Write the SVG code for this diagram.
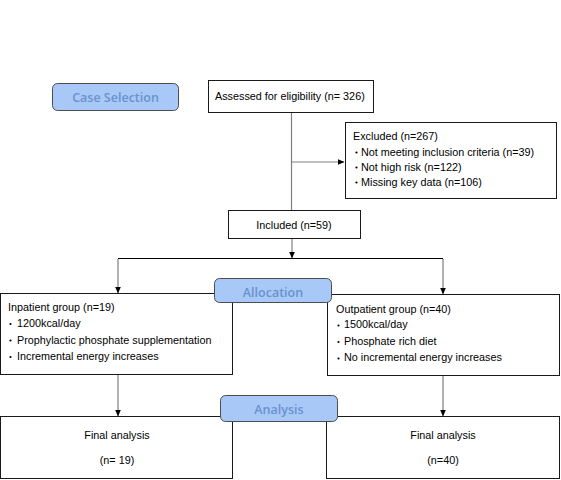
<svg xmlns="http://www.w3.org/2000/svg" width="561" height="480" viewBox="0 0 561 480">
<defs>
<marker id="arr" markerWidth="7" markerHeight="6" refX="6.5" refY="3" orient="auto" markerUnits="userSpaceOnUse">
<path d="M0,0 L7,3 L0,6 Z" fill="#000"/>
</marker>
<style>
.box{fill:#fff;stroke:#1a1a1a;stroke-width:1}
.hdr{fill:#a8c8f8;stroke:#4d4d4d;stroke-width:1}
.ht{font-family:"Open Sans","Noto Sans",sans-serif;font-size:12.5px;font-weight:600;fill:#6a92cd;text-anchor:middle}
.t{font-family:"Liberation Sans",Arial,sans-serif;font-size:10.8px;fill:#000}
.c{text-anchor:middle}
.ln{stroke:#7f7f7f;stroke-width:1.2;fill:none}
.bl{stroke:#000;stroke-width:1;fill:none}
.dot{fill:#000}
</style>
</defs>
<rect width="561" height="480" fill="#fff"/>

<g id="connectors">
<path class="ln" d="M291.5,113 V210"/>
<path class="ln" d="M291.5,162 H344" marker-end="url(#arr)"/>
<path class="ln" d="M292,239 V258" marker-end="url(#arr)"/>
<path class="bl" d="M118,258.5 H443"/>
<path class="ln" d="M118,259 V293" marker-end="url(#arr)"/>
<path class="ln" d="M443,259 V294" marker-end="url(#arr)"/>
<path class="ln" d="M118,375 V416" marker-end="url(#arr)"/>
<path class="ln" d="M443,376 V416" marker-end="url(#arr)"/>
</g>

<g id="case-selection">
<rect class="hdr" x="52.5" y="83.5" width="126" height="27" rx="5"/>
<text class="ht" x="115.5" y="102">Case Selection</text>
</g>

<g id="assessed">
<rect class="box" x="208.5" y="80.5" width="165" height="32"/>
<text class="t" x="215" y="100">Assessed for eligibility (n= 326)</text>
</g>

<g id="excluded">
<rect class="box" x="345.5" y="122.5" width="211" height="76"/>
<text class="t" x="353" y="140">Excluded (n=267)</text>
<circle class="dot" cx="356.5" cy="152.5" r="1.1"/>
<text class="t" x="361" y="156">Not meeting inclusion criteria (n=39)</text>
<circle class="dot" cx="356.5" cy="167.5" r="1.1"/>
<text class="t" x="361" y="171">Not high risk (n=122)</text>
<circle class="dot" cx="356.5" cy="182.5" r="1.1"/>
<text class="t" x="361" y="186">Missing key data (n=106)</text>
</g>

<g id="included">
<rect class="box" x="228.5" y="210.5" width="132" height="28"/>
<text class="t c" x="294" y="229">Included (n=59)</text>
</g>

<g id="inpatient">
<rect class="box" x="0.5" y="293.5" width="232" height="81"/>
<text class="t" x="8" y="311">Inpatient group (n=19)</text>
<circle class="dot" cx="10.5" cy="324" r="1.1"/>
<text class="t" x="17" y="327">1200kcal/day</text>
<circle class="dot" cx="10.5" cy="340.5" r="1.1"/>
<text class="t" x="17" y="344">Prophylactic phosphate supplementation</text>
<circle class="dot" cx="10.5" cy="357" r="1.1"/>
<text class="t" x="17" y="360">Incremental energy increases</text>
</g>

<g id="outpatient">
<rect class="box" x="327.5" y="294.5" width="232" height="81"/>
<text class="t" x="336" y="313">Outpatient group (n=40)</text>
<circle class="dot" cx="338.5" cy="325.5" r="1.1"/>
<text class="t" x="344" y="328">1500kcal/day</text>
<circle class="dot" cx="338.5" cy="342" r="1.1"/>
<text class="t" x="344" y="345">Phosphate rich diet</text>
<circle class="dot" cx="338.5" cy="358.5" r="1.1"/>
<text class="t" x="344" y="361">No incremental energy increases</text>
</g>

<g id="allocation">
<rect class="hdr" x="214.5" y="278.5" width="117" height="24" rx="5"/>
<text class="ht" x="273" y="297">Allocation</text>
</g>

<g id="final-inpatient">
<rect class="box" x="0.5" y="416.5" width="232" height="62"/>
<text class="t c" x="117" y="439">Final analysis</text>
<text class="t c" x="117" y="464">(n= 19)</text>
</g>

<g id="final-outpatient">
<rect class="box" x="326.5" y="416.5" width="233" height="62"/>
<text class="t c" x="443" y="439">Final analysis</text>
<text class="t c" x="443" y="464">(n=40)</text>
</g>

<g id="analysis">
<rect class="hdr" x="220.5" y="395.5" width="117" height="26" rx="5"/>
<text class="ht" x="279" y="414">Analysis</text>
</g>
</svg>
